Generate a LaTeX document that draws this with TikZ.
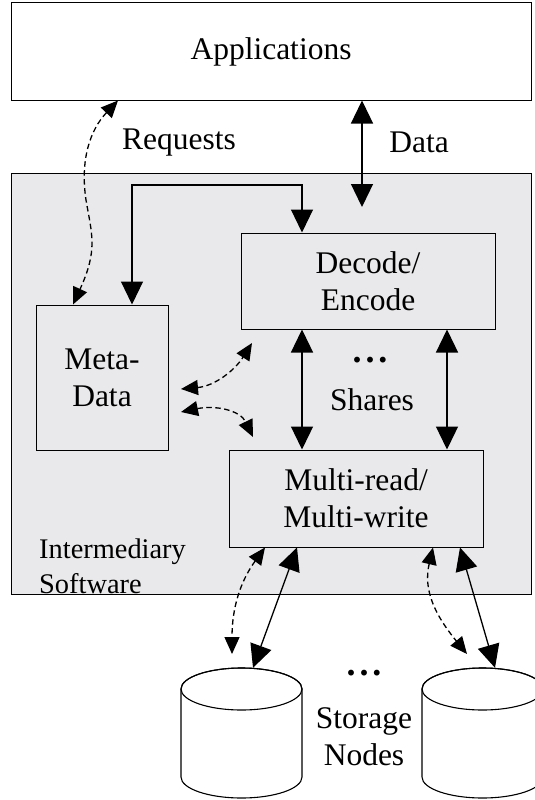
\documentclass[tikz,border=0pt]{standalone}
\usepackage{fontspec}
\setmainfont{Liberation Serif}
\usetikzlibrary{arrows.meta,calc}
\definecolor{softgray}{RGB}{233,233,235}
\begin{document}
\begin{tikzpicture}[x=1pt,y=-1pt,
  box/.style={draw=black, line width=1pt, inner sep=0pt, align=center, font=\fontsize{31.5}{37}\selectfont},
  lbl/.style={inner sep=0pt, align=center, font=\fontsize{31.5}{37}\selectfont},
  dotlbl/.style={inner sep=0pt, font=\fontsize{36}{36}\selectfont\bfseries},
  solidarrow/.style={line width=1.3pt, {Triangle[length=23pt,width=22pt]}-{Triangle[length=23pt,width=22pt]}},
  dasharrow/.style={line width=1.3pt, dash pattern=on 5.5pt off 3.5pt, {Triangle[length=17pt,width=15pt]}-{Triangle[length=17pt,width=15pt]}},
  cylline/.style={line width=1.1pt, fill=white}
]
\useasboundingbox (0,0) rectangle (535,800);
\clip (0,0) rectangle (535,800);

% boxes
\node[box, fill=white, minimum width=520pt, minimum height=97pt] (app) at (271,51.5) {Applications};
\node[draw=black, line width=1pt, fill=softgray, inner sep=0pt, minimum width=520pt, minimum height=421pt] (mid) at (271,383.5) {};
\node[box, minimum width=132pt, minimum height=145pt] (meta) at (102,377.5) {Meta-\\Data};
\node[box, minimum width=254pt, minimum height=96pt] (dec) at (368,281) {Decode/\\Encode};
\node[box, minimum width=254pt, minimum height=97pt] (mul) at (356,498.5) {Multi-read/\\Multi-write};

% labels
\node[lbl] (req) at (179,143) {Requests};
\node[lbl] (data) at (419,142) {Data};
\node[dotlbl] (shdots) at (370,360) {.\hspace{4pt}.\hspace{4pt}.};
\node[lbl] (shares) at (372,400) {Shares};
\node[inner sep=0pt, align=left, anchor=west, font=\fontsize{28.4}{35}\selectfont] (inter) at (39,566) {Intermediary\\Software};
\node[dotlbl] (stdots) at (364,673) {.\hspace{4pt}.\hspace{4pt}.};
\node[lbl] (stor) at (364,737) {Storage\\Nodes};

% cylinders
\node[inner sep=0pt, minimum width=121pt, minimum height=130pt] (cylA) at (241.5,733) {};
\node[inner sep=0pt, minimum width=121pt, minimum height=130pt] (cylB) at (482.5,733) {};
\draw[cylline] (181,689) -- (181,777) arc[start angle=180,end angle=360,x radius=60.5pt,y radius=21pt] -- (302,689) arc[start angle=0,end angle=180,x radius=60.5pt,y radius=21pt] -- cycle;
\draw[line width=1.1pt] (241.5,689) ellipse [x radius=60.5pt, y radius=21pt];
\draw[cylline] (422,689) -- (422,777) arc[start angle=180,end angle=360,x radius=60.5pt,y radius=21pt] -- (543,689) arc[start angle=0,end angle=180,x radius=60.5pt,y radius=21pt] -- cycle;
\draw[line width=1.1pt] (482.5,689) ellipse [x radius=60.5pt, y radius=21pt];

% free-end coordinates
\coordinate (datain) at (362,207);
\coordinate (mdcorner) at (217,185);
\coordinate (m1a) at (181,389);
\coordinate (m1b) at (252,343);
\coordinate (m2a) at (181,412);
\coordinate (m2b) at (253,437);
\coordinate (sAd) at (232,654);
\coordinate (sBd) at (467,654);

% connectors
\draw[solidarrow] (app.south -| 362,0) -- (datain);
\draw[line width=1.1pt, {Triangle[length=23pt,width=22pt]}-{Triangle[length=23pt,width=22pt]}] (meta.north -| 132,0) |- (mdcorner) -| (dec.north -| 302,0);
\draw[solidarrow] (dec.south -| 302,0) -- (mul.north -| 302,0);
\draw[solidarrow] (dec.south -| 447,0) -- (mul.north -| 447,0);

\draw[dasharrow] (app.south -| 118,0) .. controls (90,130) and (80,160) .. (86,200) .. controls (92,235) and (98,250) .. (meta.north -| 73,0);
\draw[dasharrow] (m1a) .. controls (215,386) and (235,370) .. (m1b);
\draw[dasharrow] (m2a) .. controls (215,405) and (240,410) .. (m2b);

\draw[solidarrow] (mul.south -| 297,0) -- (cylA.north -| 253,0);
\draw[dasharrow] (mul.south -| 265,0) .. controls (245,575) and (232,600) .. (sAd);
\draw[dasharrow] (mul.south -| 433,0) .. controls (423,590) and (435,615) .. (sBd);
\draw[solidarrow] (mul.south -| 460,0) -- (cylB.north -| 495,0);
\end{tikzpicture}
\end{document}
